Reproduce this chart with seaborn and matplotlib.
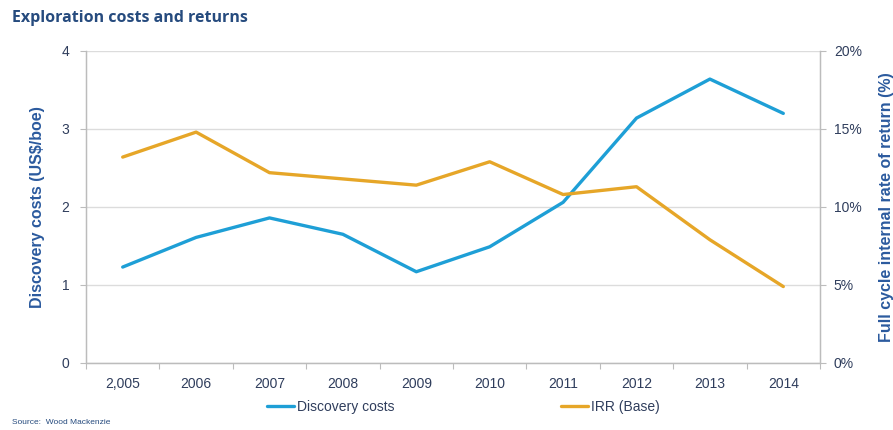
import matplotlib
matplotlib.use("Agg")
import matplotlib.pyplot as plt
import seaborn as sns
import pandas as pd
import numpy as np
from matplotlib.lines import Line2D
from matplotlib.ticker import FuncFormatter, FixedLocator

years = ["2,005", "2006", "2007", "2008", "2009", "2010", "2011", "2012", "2013", "2014"]
discovery_costs = [1.23, 1.61, 1.86, 1.65, 1.17, 1.49, 2.06, 3.14, 3.64, 3.20]
irr_base = [13.2, 14.8, 12.2, 11.8, 11.4, 12.9, 10.8, 11.3, 7.9, 4.9]

sns.set_theme(style="white")
plt.rcParams['font.family'] = ['Liberation Sans', 'DejaVu Sans']

BLUE = "#1e9fd6"
ORANGE = "#e6a628"
TEXT = "#2f3d5c"
LABEL = "#2b5a9e"
TITLE = "#264b7e"
GRID = "#dcdcdc"
SPINE = "#bcbcbc"

df = pd.DataFrame({"idx": np.arange(len(years)), "year": years,
                   "cost": discovery_costs, "irr": irr_base})

fig = plt.figure(figsize=(8.93, 4.30), dpi=100)
ax = fig.add_axes([86/893, 1-363/430, (820-86)/893, (363-51)/430])
ax2 = ax.twinx()

sns.lineplot(data=df, x="idx", y="cost", ax=ax, color=BLUE, linewidth=2.4, legend=False)
sns.lineplot(data=df, x="idx", y="irr", ax=ax2, color=ORANGE, linewidth=2.4, legend=False)
ax2.set_zorder(ax.get_zorder() + 1)
ax2.patch.set_visible(False)

ax.set_xlim(-0.5, len(years) - 0.5)
ax.set_ylim(0, 4)
ax2.set_ylim(0, 20)

ax.set_yticks([0, 1, 2, 3, 4])
ax2.set_yticks([0, 5, 10, 15, 20])
ax2.yaxis.set_major_formatter(FuncFormatter(lambda v, p: f"{int(v)}%"))

ax.set_xticks(df["idx"])
ax.set_xticklabels(years)
ax.xaxis.set_minor_locator(FixedLocator(np.arange(-0.5, len(years), 1.0)))
ax.tick_params(axis="x", which="major", length=0, pad=10, labelsize=10, labelcolor=TEXT)
ax.tick_params(axis="x", which="minor", length=4, direction="out", color=SPINE, width=0.8, bottom=True)
ax.tick_params(axis="y", length=4, direction="out", color=SPINE, width=0.8, labelsize=10,
               labelcolor=TEXT, pad=8, left=True)
ax2.tick_params(axis="y", length=4, direction="out", color=SPINE, width=0.8, labelsize=10,
                labelcolor=TEXT, pad=6, right=True)

ax.yaxis.grid(True, color=GRID, linewidth=1.0)
ax.set_axisbelow(True)

for a in (ax, ax2):
    a.spines["top"].set_visible(False)
    for s in ("left", "right", "bottom"):
        a.spines[s].set_color(SPINE)
        a.spines[s].set_linewidth(0.9)

ax.set_xlabel("")
ax.set_ylabel("Discovery costs (US$/boe)", color=LABEL, fontsize=11.5, fontweight="bold", labelpad=12)
ax2.set_ylabel("Full cycle internal rate of return (%)", color=LABEL, fontsize=11.5,
               fontweight="bold", labelpad=12)

fig.text(12/893, 1-18/430, "Exploration costs and returns", color=TITLE, fontsize=11.5,
         fontweight="bold", va="center", ha="left", family=["Open Sans", "DejaVu Sans"])
fig.text(12/893, 1-423/430, "Source:  Wood Mackenzie", color=TITLE, fontsize=6,
         va="center", ha="left")

handles = [Line2D([], [], color=BLUE, linewidth=2.4), Line2D([], [], color=ORANGE, linewidth=2.4)]
leg = fig.legend(handles, ["Discovery costs", "IRR (Base)"], ncol=2, frameon=False,
                 loc="center", bbox_to_anchor=(463/893, 1-407/430), fontsize=10,
                 handlelength=2.0, handletextpad=0.15, columnspacing=12.0)
for t in leg.get_texts():
    t.set_color(TEXT)

fig.savefig("out.png", dpi=100)
